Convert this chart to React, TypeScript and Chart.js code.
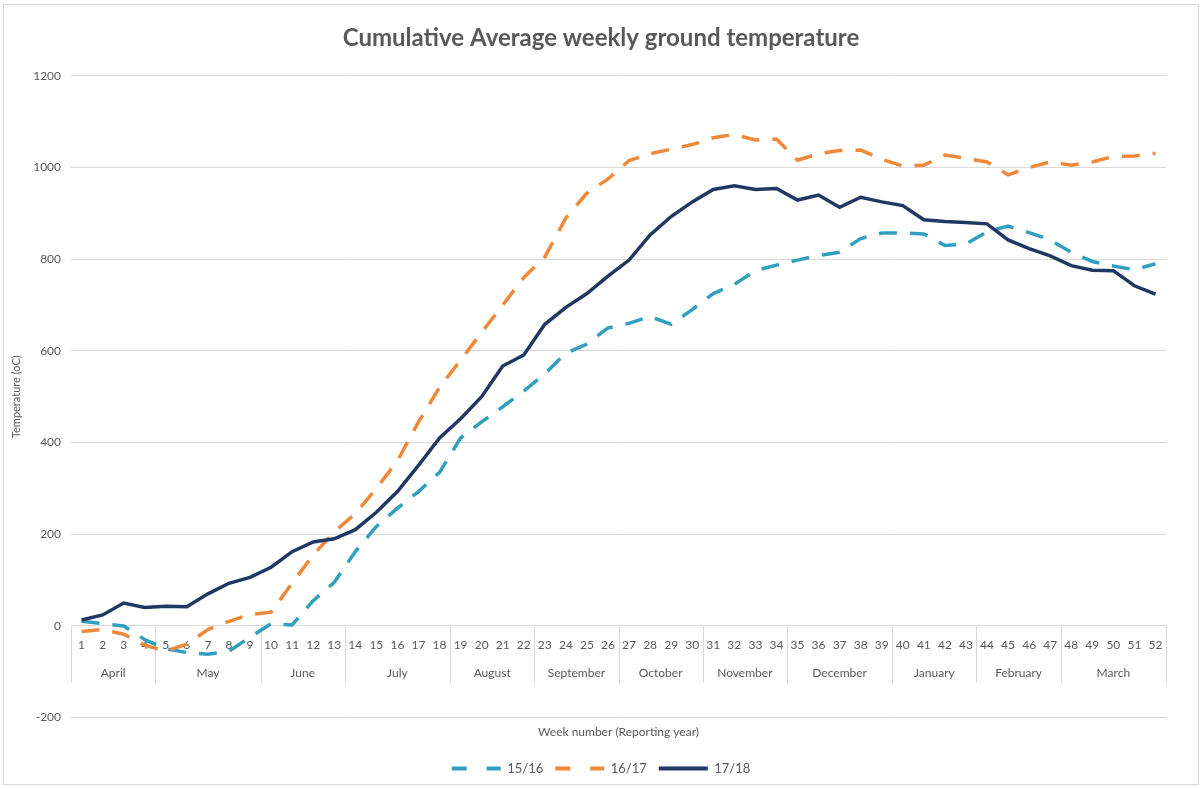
import React, { useEffect, useRef } from 'react';
import { Chart, registerables } from 'chart.js';

Chart.register(...registerables);

const weeks = ['1','2','3','4','5','6','7','8','9','10','11','12','13','14','15','16','17','18','19','20','21','22','23','24','25','26','27','28','29','30','31','32','33','34','35','36','37','38','39','40','41','42','43','44','45','46','47','48','49','50','51','52'];

const months = ['April','May','June','July','August','September','October','November','December','January','February','March'];
const monthWeekCounts = [4, 5, 4, 5, 4, 4, 4, 4, 5, 4, 4, 5];

const series1516 = [10, 5, 0, -30, -50, -58, -62, -55, -25, 5, 2, 55, 95, 162, 217, 257, 293, 335, 410, 445, 478, 512, 550, 595, 615, 650, 660, 675, 658, 690, 725, 745, 775, 787, 798, 808, 815, 845, 857, 857, 855, 830, 833, 860, 872, 858, 842, 815, 795, 785, 777, 790];
const series1617 = [-12, -8, -18, -42, -55, -40, -8, 10, 25, 30, 93, 155, 205, 245, 300, 360, 445, 520, 580, 640, 700, 760, 805, 890, 944, 975, 1015, 1030, 1040, 1050, 1065, 1072, 1060, 1062, 1016, 1030, 1037, 1038, 1018, 1003, 1005, 1027, 1020, 1012, 984, 1000, 1012, 1005, 1012, 1024, 1025, 1031];
const series1718 = [13, 24, 50, 40, 43, 42, 70, 93, 106, 128, 162, 183, 190, 210, 248, 293, 350, 410, 452, 500, 567, 591, 658, 695, 725, 763, 798, 853, 893, 925, 952, 960, 952, 954, 929, 940, 913, 935, 925, 917, 886, 882, 880, 877, 842, 823, 807, 786, 776, 775, 742, 724];

const seriesNames = ['15/16', '16/17', '17/18'];
const seriesColors = ['#31A0C0', '#F0883A', '#1F3864'];
const yTicks = [-200, 0, 200, 400, 600, 800, 1000, 1200];

const chartTitle = 'Cumulative Average weekly ground temperature';
const xTitle = 'Week number (Reporting year)';
const yTitle = 'Temperature (oC)';

const FONT = 'Lato, "Open Sans", sans-serif';
const TEXT = '#595959';
const GRID = '#d9d9d9';
const PLOT_DASH = [18, 13];
const LEGEND_DASH = [15, 20];

const framePlugin = {
  id: 'frame',
  beforeDraw(chart: any) {
    const ctx = chart.ctx;
    ctx.save();
    ctx.fillStyle = '#ffffff';
    ctx.fillRect(0, 0, chart.width, chart.height);
    ctx.strokeStyle = GRID;
    ctx.lineWidth = 1;
    ctx.strokeRect(3.5, 4.5, chart.width - 7, chart.height - 9);
    ctx.restore();
  },
};

const monthPlugin = {
  id: 'monthGroups',
  beforeDatasetsDraw(chart: any) {
    const xs = chart.scales.x;
    const ys = chart.scales.y;
    const ctx = chart.ctx;
    const y0 = ys.getPixelForValue(0);
    const half = (xs.getPixelForValue(1) - xs.getPixelForValue(0)) / 2;
    const edges: number[] = [xs.getPixelForValue(0) - half];
    let idx = 0;
    monthWeekCounts.forEach((c) => {
      idx += c;
      edges.push(xs.getPixelForValue(idx - 1) + half);
    });
    ctx.save();
    ctx.strokeStyle = GRID;
    ctx.lineWidth = 1;
    edges.forEach((e) => {
      const px = Math.round(e) + 0.5;
      ctx.beginPath();
      ctx.moveTo(px, y0);
      ctx.lineTo(px, y0 + 57);
      ctx.stroke();
    });
    ctx.fillStyle = TEXT;
    ctx.font = `12px ${FONT}`;
    ctx.textAlign = 'center';
    ctx.textBaseline = 'middle';
    months.forEach((m, i) => {
      ctx.fillText(m, (edges[i] + edges[i + 1]) / 2, y0 + 47);
    });
    ctx.restore();
  },
};

export default function App() {
  const ref = useRef<HTMLCanvasElement | null>(null);
  useEffect(() => {
    if (!ref.current) return;
    const chart = new Chart(ref.current, {
      type: 'line',
      data: {
        labels: weeks,
        datasets: [
          {
            label: seriesNames[0],
            data: series1516,
            borderColor: seriesColors[0],
            backgroundColor: seriesColors[0],
            borderWidth: 3.5,
            borderDash: PLOT_DASH,
            pointRadius: 0,
            tension: 0,
            order: 2,
          },
          {
            label: seriesNames[1],
            data: series1617,
            borderColor: seriesColors[1],
            backgroundColor: seriesColors[1],
            borderWidth: 3.5,
            borderDash: PLOT_DASH,
            pointRadius: 0,
            tension: 0,
            order: 1,
          },
          {
            label: seriesNames[2],
            data: series1718,
            borderColor: seriesColors[2],
            backgroundColor: seriesColors[2],
            borderWidth: 3.5,
            pointRadius: 0,
            tension: 0,
            order: 0,
          },
        ],
      },
      options: {
        responsive: false,
        animation: false,
        layout: { padding: { left: 0, right: 0, top: 0, bottom: 4 } },
        plugins: {
          title: {
            display: true,
            text: chartTitle,
            color: TEXT,
            font: { family: FONT, size: 24, weight: 'bold' },
            padding: { top: 24, bottom: 23 },
          },
          subtitle: {
            display: true,
            position: 'bottom',
            fullSize: false,
            weight: 500,
            text: xTitle,
            color: TEXT,
            font: { family: FONT, size: 12, weight: 'normal' },
            padding: { top: 7, bottom: 11 },
          },
          legend: {
            display: true,
            position: 'bottom',
            labels: {
              usePointStyle: true,
              pointStyle: 'line',
              pointStyleWidth: 49,
              color: TEXT,
              font: { family: FONT, size: 13 },
              padding: 12,
              sort: (a: any, b: any) => a.datasetIndex - b.datasetIndex,
              generateLabels: (chart: any) => {
                const items = (Chart.defaults.plugins.legend.labels as any).generateLabels(chart);
                return items.map((it: any) => {
                  const ds = chart.data.datasets[it.datasetIndex];
                  return {
                    ...it,
                    pointStyle: 'line',
                    strokeStyle: ds.borderColor,
                    fillStyle: ds.borderColor,
                    lineWidth: 4,
                    lineCap: 'butt',
                    lineDash: ds.borderDash ? LEGEND_DASH : [],
                  };
                });
              },
            },
          },
          tooltip: { enabled: false },
        },
        scales: {
          x: {
            type: 'category',
            position: { y: 0 } as any,
            offset: true,
            grid: { display: false, drawTicks: false },
            border: { display: true, color: GRID },
            ticks: {
              color: TEXT,
              font: { family: FONT, size: 12 },
              padding: 12,
              autoSkip: false,
              maxRotation: 0,
            },
          },
          y: {
            min: -200,
            max: 1200,
            afterBuildTicks: (axis: any) => {
              axis.ticks = yTicks.map((v) => ({ value: v }));
            },
            grid: { color: GRID, drawTicks: false },
            border: { display: false },
            ticks: {
              color: TEXT,
              font: { family: FONT, size: 12 },
              padding: 10,
              callback: (v: any) => String(v),
            },
            title: {
              display: true,
              text: yTitle,
              color: TEXT,
              font: { family: FONT, size: 11 },
              padding: { top: 10, bottom: 0 },
            },
          },
          yr: {
            type: 'linear',
            position: 'right',
            display: true,
            grid: { display: false, drawTicks: false },
            border: { display: false },
            ticks: { display: false },
            afterFit: (axis: any) => {
              axis.width = 36;
            },
          },
        },
      },
      plugins: [framePlugin, monthPlugin],
    });
    return () => chart.destroy();
  }, []);
  return (
    <div style={{ position: 'fixed', left: 0, top: 0, width: 1202, height: 789 }}>
      <canvas ref={ref} width={1202} height={789} />
    </div>
  );
}
